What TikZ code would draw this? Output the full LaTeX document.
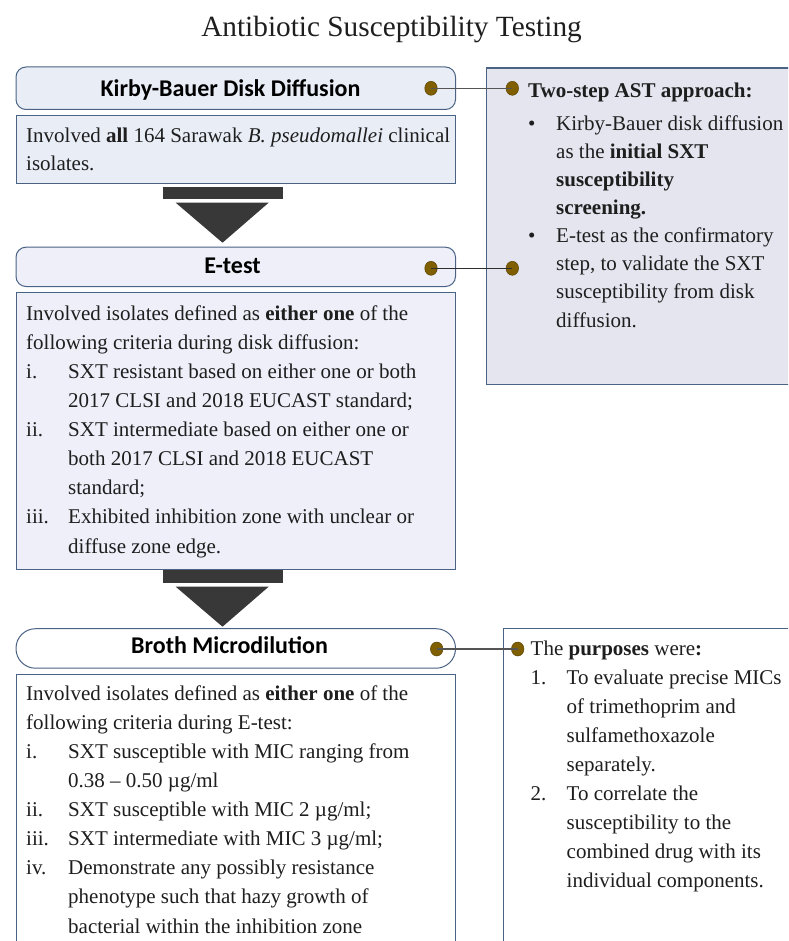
\documentclass[tikz,border=0pt]{standalone}
\usepackage{fontspec}
\setmainfont{Liberation Serif}
\newfontfamily\hdfont{Carlito}
\usetikzlibrary{shapes.geometric,calc}
\definecolor{bordc}{HTML}{4A6284}
\definecolor{kbfill}{HTML}{E9EDF6}
\definecolor{etfill}{HTML}{EEEFF9}
\definecolor{rbfill}{HTML}{E4E5EF}
\definecolor{dotc}{HTML}{7F5F00}
\definecolor{dotb}{HTML}{5A4300}
\definecolor{arrc}{HTML}{383838}
\definecolor{txt}{HTML}{1E1E1E}
\definecolor{linkg}{HTML}{555555}
\definecolor{linkd}{HTML}{2E2E2E}
\begin{document}
\begin{tikzpicture}[x=1pt,y=-1pt,
  hdrbox/.style={draw=bordc, line width=1pt, inner sep=0, anchor=north west, rounded corners=10pt},
  bodybox/.style={draw=bordc, line width=1.1pt, inner sep=0, anchor=north west},
  dotn/.style={ellipse, fill=dotc, draw=dotb, line width=0.5pt, minimum width=12.5pt, minimum height=14pt, inner sep=0},
  link/.style={line width=1.1pt},
  htext/.style={font=\hdfont\bfseries\fontsize{24}{28}\selectfont, anchor=base, inner sep=0, text=black},
  btext/.style={font=\fontsize{21}{29.1}\selectfont, anchor=north west, inner sep=0, align=left, text=txt},
  blockarrow/.style={fill=arrc}
]
\useasboundingbox (0,0) rectangle (788,941);
\clip (0,0) rectangle (788,941);

% title
\node[font=\fontsize{29.3}{34}\selectfont, anchor=base, inner sep=0, text=txt] (title) at (391.5,37) {Antibiotic Susceptibility Testing};

% left column boxes
\node[hdrbox, fill=kbfill, minimum width=439.5pt, minimum height=42.5pt] (kbh) at (15.5,66.5) {};
\node[bodybox, fill=kbfill, minimum width=439pt, minimum height=68pt] (kbb) at (15.5,115) {};
\node[hdrbox, fill=etfill, minimum width=439.5pt, minimum height=39.3pt] (eth) at (15.5,246.7) {};
\node[bodybox, fill=etfill, minimum width=439pt, minimum height=277.3pt] (etb) at (15.5,291.7) {};
\node[hdrbox, fill=white, rounded corners=19.5pt, minimum width=439.5pt, minimum height=39.5pt] (bmh) at (15.5,628.2) {};
\node[bodybox, fill=white, minimum width=439pt, minimum height=300pt] (bmb) at (15.5,674) {};

% right boxes
\node[bodybox, fill=rbfill, minimum width=320pt, minimum height=317.5pt] (rb1) at (486,66.8) {};
\draw[bordc, line width=1pt] ($(rb1.north west)+(0,2.2)$) -- ($(rb1.north east)+(0,2.2)$);
\node[bodybox, fill=white, minimum width=300pt, minimum height=340pt] (rb2) at (502.7,628.3) {};

% block arrows
\fill[blockarrow] (162.7,186.7) rectangle (282.7,199.3);
\fill[blockarrow] (175.7,202.7) -- (268.7,202.7) -- (222.5,242.7) -- cycle;
\fill[blockarrow] (162.7,570.2) rectangle (282.7,583.3);
\fill[blockarrow] (175.7,586.7) -- (268.7,586.7) -- (222.5,626.7) -- cycle;

% header texts
\node[htext] (kbt) at (230.5,96.8) {Kirby-Bauer Disk Diffusion};
\node[htext] (ett) at (232.5,273) {E-test};
\node[htext] (bmt) at (229.5,653) {Broth Microdilution};

% body texts
\node[btext, font=\fontsize{21}{28}\selectfont] (kbtx) at (26,126.3) {\rule{0pt}{16pt}Involved \textbf{all} 164 Sarawak \textit{B. pseudomallei} clinical\\
isolates.};

\node[btext] (ettx) at (26,304) {\rule{0pt}{16pt}Involved isolates defined as \textbf{either one} of the\\
following criteria during disk diffusion:\\
\makebox[42pt][l]{i.}SXT resistant based on either one or both\\
\hspace*{42pt}2017 CLSI and 2018 EUCAST standard;\\
\makebox[42pt][l]{ii.}SXT intermediate based on either one or\\
\hspace*{42pt}both 2017 CLSI and 2018 EUCAST\\
\hspace*{42pt}standard;\\
\makebox[42pt][l]{iii.}Exhibited inhibition zone with unclear or\\
\hspace*{42pt}diffuse zone edge.};

\node[btext] (bmtx) at (26,684) {\rule{0pt}{16pt}Involved isolates defined as \textbf{either one} of the\\
following criteria during E-test:\\
\makebox[42pt][l]{i.}SXT susceptible with MIC ranging from\\
\hspace*{42pt}0.38 – 0.50 µg/ml\\
\makebox[42pt][l]{ii.}SXT susceptible with MIC 2 µg/ml;\\
\makebox[42pt][l]{iii.}SXT intermediate with MIC 3 µg/ml;\\
\makebox[42pt][l]{iv.}Demonstrate any possibly resistance\\
\hspace*{42pt}phenotype such that hazy growth of\\
\hspace*{42pt}bacterial within the inhibition zone};

\node[btext, font=\fontsize{21}{28.1}\selectfont] (rb1tx) at (528,81) {\rule{0pt}{16pt}\textbf{Two-step AST approach:}\\[5pt]
\makebox[28pt][l]{•}Kirby-Bauer disk diffusion\\
\hspace*{28pt}as the \textbf{initial SXT}\\
\hspace*{28pt}\textbf{susceptibility}\\
\hspace*{28pt}\textbf{screening.}\\
\makebox[28pt][l]{•}E-test as the confirmatory\\
\hspace*{28pt}step, to validate the SXT\\
\hspace*{28pt}susceptibility from disk\\
\hspace*{28pt}diffusion.};

\node[btext, font=\fontsize{21}{29}\selectfont] (rb2tx) at (530.5,639) {\rule{0pt}{16pt}The \textbf{purposes} were\textbf{:}\\
\makebox[36pt][l]{1.}To evaluate precise MICs\\
\hspace*{36pt}of trimethoprim and\\
\hspace*{36pt}sulfamethoxazole\\
\hspace*{36pt}separately.\\
\makebox[36pt][l]{2.}To correlate the\\
\hspace*{36pt}susceptibility to the\\
\hspace*{36pt}combined drug with its\\
\hspace*{36pt}individual components.};

% dots and connectors
\node[dotn] (d1a) at (431,88.3) {};
\node[dotn] (d1b) at (512.3,88.3) {};
\draw[link, linkg] (d1a.center) -- (d1b.center);
\node[dotn] (d2a) at (431,268.3) {};
\node[dotn] (d2b) at (512.3,268.3) {};
\draw[link, linkd] (d2a.center) -- (d2b.center);
\node[dotn] (d3a) at (436.7,649) {};
\node[dotn] (d3b) at (517.7,649) {};
\draw[link, linkg] (d3a.center) -- (d3b.center);
\end{tikzpicture}
\end{document}
